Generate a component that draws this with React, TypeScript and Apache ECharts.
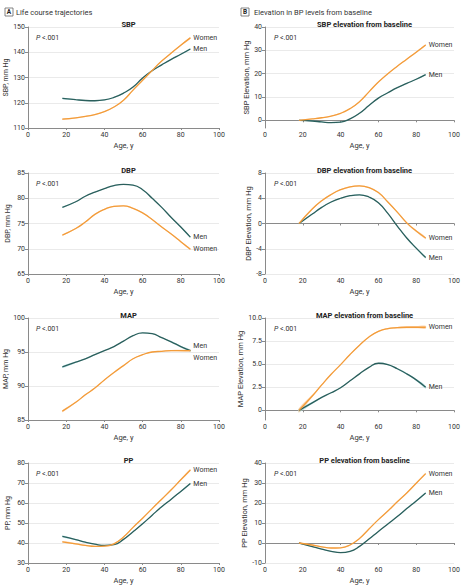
import React, { useEffect, useRef } from "react";
import * as echarts from "echarts";

// ---------- data ----------
const ages = [18, 25, 30, 35, 40, 45, 50, 55, 60, 65, 70, 75, 80, 85];
const ageTicks = [0, 20, 40, 60, 80, 100];

// A. Life course trajectories
const sbpMen = [121.7, 121.2, 120.9, 120.8, 121.1, 122.1, 123.8, 126.2, 129.8, 132.7, 135.0, 137.2, 139.2, 141.3];
const sbpWomen = [113.5, 114.0, 114.6, 115.3, 116.5, 118.3, 121.0, 125.0, 128.9, 132.8, 136.5, 139.7, 142.8, 145.7];
const dbpMen = [78.2, 79.3, 80.4, 81.2, 81.9, 82.5, 82.75, 82.6, 81.7, 80.0, 78.2, 76.2, 74.3, 72.3];
const dbpWomen = [72.7, 74.0, 75.3, 76.8, 77.8, 78.4, 78.5, 78.0, 77.1, 75.8, 74.3, 72.9, 71.4, 69.9];
const mapMen = [92.8, 93.5, 94.0, 94.6, 95.2, 95.8, 96.6, 97.4, 97.8, 97.7, 97.1, 96.5, 95.8, 95.2];
const mapWomen = [86.3, 87.6, 88.7, 89.7, 90.9, 92.0, 93.0, 94.0, 94.6, 95.0, 95.1, 95.2, 95.2, 95.2];
const ppMen = [43.3, 41.7, 40.4, 39.4, 38.8, 39.2, 41.8, 45.6, 49.6, 53.9, 58.1, 61.9, 65.8, 69.7];
const ppWomen = [40.6, 39.6, 38.8, 38.3, 38.4, 39.6, 43.0, 47.8, 52.4, 57.2, 61.9, 66.6, 71.6, 76.5];

// B. Elevation in BP levels from baseline
const sbpElevMen = [0, -0.3, -0.7, -1.0, -0.8, 0.6, 3.0, 6.3, 9.5, 11.8, 14.0, 15.8, 17.6, 19.6];
const sbpElevWomen = [0, 0.6, 1.1, 1.8, 3.0, 5.0, 8.0, 12.2, 16.4, 20.0, 23.2, 26.2, 29.2, 32.3];
const dbpElevMen = [0, 1.5, 2.55, 3.4, 4.0, 4.4, 4.55, 4.2, 3.3, 1.6, -0.4, -2.3, -3.9, -5.4];
const dbpElevWomen = [0, 2.3, 3.6, 4.6, 5.35, 5.8, 5.95, 5.7, 4.9, 3.4, 1.8, 0.1, -1.2, -2.3];
const mapElevMen = [0, 0.8, 1.4, 1.9, 2.45, 3.2, 3.95, 4.65, 5.1, 4.95, 4.5, 3.95, 3.3, 2.5];
const mapElevWomen = [0, 1.55, 2.75, 3.9, 4.95, 6.05, 7.05, 7.95, 8.55, 8.85, 8.95, 9.0, 9.0, 9.0];
const ppElevMen = [0, -1.8, -3.1, -4.2, -4.8, -4.2, -1.7, 2.0, 5.8, 9.5, 13.2, 17.2, 21.0, 25.0];
const ppElevWomen = [0, -1.0, -1.9, -2.5, -2.4, -1.0, 2.3, 7.0, 11.7, 16.0, 20.6, 25.0, 29.9, 34.7];

// confidence band half-widths
const sbpMenCI = [0.3, 0.2, 0.2, 0.2, 0.2, 0.2, 0.2, 0.2, 0.2, 0.2, 0.2, 0.2, 0.25, 0.3];
const sbpWomenCI = [0.3, 0.2, 0.2, 0.2, 0.2, 0.2, 0.2, 0.2, 0.2, 0.2, 0.2, 0.25, 0.3, 0.35];
const dbpMenCI = [0.12, 0.08, 0.08, 0.08, 0.08, 0.08, 0.08, 0.08, 0.08, 0.08, 0.08, 0.1, 0.12, 0.15];
const dbpWomenCI = [0.12, 0.1, 0.1, 0.1, 0.1, 0.1, 0.1, 0.1, 0.1, 0.1, 0.1, 0.12, 0.14, 0.16];
const mapMenCI = [0.15, 0.1, 0.08, 0.06, 0.06, 0.06, 0.06, 0.06, 0.06, 0.07, 0.08, 0.1, 0.12, 0.15];
const mapWomenCI = [0.15, 0.1, 0.08, 0.06, 0.06, 0.06, 0.06, 0.06, 0.06, 0.07, 0.08, 0.1, 0.12, 0.15];
const ppMenCI = [0.4, 0.3, 0.25, 0.25, 0.25, 0.25, 0.25, 0.25, 0.25, 0.25, 0.3, 0.3, 0.35, 0.4];
const ppWomenCI = [0.4, 0.35, 0.3, 0.3, 0.3, 0.3, 0.3, 0.3, 0.3, 0.3, 0.3, 0.35, 0.4, 0.45];
const sbpElevMenCI = [0.2, 0.2, 0.2, 0.2, 0.2, 0.2, 0.2, 0.2, 0.2, 0.2, 0.2, 0.2, 0.25, 0.3];
const sbpElevWomenCI = [0.2, 0.2, 0.2, 0.2, 0.2, 0.2, 0.2, 0.2, 0.2, 0.2, 0.2, 0.25, 0.3, 0.35];
const dbpElevMenCI = [0.12, 0.1, 0.08, 0.08, 0.08, 0.08, 0.08, 0.08, 0.08, 0.08, 0.1, 0.12, 0.14, 0.16];
const dbpElevWomenCI = [0.12, 0.1, 0.1, 0.1, 0.1, 0.1, 0.1, 0.1, 0.1, 0.1, 0.12, 0.14, 0.16, 0.18];
const mapElevMenCI = [0.2, 0.12, 0.08, 0.06, 0.05, 0.05, 0.05, 0.05, 0.06, 0.07, 0.08, 0.1, 0.12, 0.16];
const mapElevWomenCI = [0.25, 0.14, 0.08, 0.06, 0.05, 0.05, 0.05, 0.05, 0.06, 0.07, 0.08, 0.1, 0.12, 0.16];
const ppElevMenCI = [0.2, 0.2, 0.2, 0.2, 0.2, 0.2, 0.2, 0.2, 0.2, 0.2, 0.25, 0.3, 0.35, 0.4];
const ppElevWomenCI = [0.2, 0.2, 0.2, 0.2, 0.2, 0.2, 0.2, 0.2, 0.2, 0.2, 0.25, 0.3, 0.35, 0.4];

// tick labels
const sbpTicks = [110, 120, 130, 140, 150];
const dbpTicks = [65, 70, 75, 80, 85];
const mapTicks = [85, 90, 95, 100];
const ppTicks = [30, 40, 50, 60, 70, 80];
const sbpElevTicks = [0, 10, 20, 30, 40];
const dbpElevTicks = [-8, -4, 0, 4, 8];
const mapElevTicks = [0, 2.5, 5, 7.5, 10];
const mapElevTickLabels = ["0", "2.5", "5.0", "7.5", "10.0"];
const ppElevTicks = [-10, 0, 10, 20, 30, 40];

const titles = ["SBP", "DBP", "MAP", "PP", "SBP elevation from baseline", "DBP elevation from baseline", "MAP elevation from baseline", "PP elevation from baseline"];
const yNames = ["SBP, mm Hg", "DBP, mm Hg", "MAP, mm Hg", "PP, mm Hg", "SBP Elevation, mm Hg", "DBP Elevation, mm Hg", "MAP Elevation, mm Hg", "PP Elevation, mm Hg"];
const headerA = "Life course trajectories";
const headerB = "Elevation in BP levels from baseline";

// ---------- styling ----------
const MEN = "#2b5f5c";
const WOMEN = "#f39c3a";
const MEN_BAND = "rgba(150,215,220,0.6)";
const WOMEN_BAND = "rgba(250,195,140,0.65)";
const FONT = "'Liberation Sans Narrow', 'Roboto', 'Liberation Sans', sans-serif";
const TXT = "#333";

type Panel = {
  men: number[]; women: number[]; menCI: number[]; womenCI: number[];
  ticks: number[]; min: number; max: number; labels?: string[];
  menOff?: number[]; womenOff?: number[];
};

const panels: Panel[] = [
  { men: sbpMen, women: sbpWomen, menCI: sbpMenCI, womenCI: sbpWomenCI, ticks: sbpTicks, min: 110, max: 150 },
  { men: dbpMen, women: dbpWomen, menCI: dbpMenCI, womenCI: dbpWomenCI, ticks: dbpTicks, min: 65, max: 85 },
  { men: mapMen, women: mapWomen, menCI: mapMenCI, womenCI: mapWomenCI, ticks: mapTicks, min: 85, max: 100, menOff: [0, -5], womenOff: [0, 7] },
  { men: ppMen, women: ppWomen, menCI: ppMenCI, womenCI: ppWomenCI, ticks: ppTicks, min: 30, max: 80 },
  { men: sbpElevMen, women: sbpElevWomen, menCI: sbpElevMenCI, womenCI: sbpElevWomenCI, ticks: sbpElevTicks, min: -3.3, max: 40 },
  { men: dbpElevMen, women: dbpElevWomen, menCI: dbpElevMenCI, womenCI: dbpElevWomenCI, ticks: dbpElevTicks, min: -8, max: 8 },
  { men: mapElevMen, women: mapElevWomen, menCI: mapElevMenCI, womenCI: mapElevWomenCI, ticks: mapElevTicks, min: -1.05, max: 10, labels: mapElevTickLabels },
  { men: ppElevMen, women: ppElevWomen, menCI: ppElevMenCI, womenCI: ppElevWomenCI, ticks: ppElevTicks, min: -10, max: 40 },
];

const colLeft = [28, 265];
const colWidth = [191, 189];
const rowTop = [27, 173, 318, 463];
const rowHeight = [101, 101, 102, 100];

function bandSeries(idx: number, mid: number[], half: number[], color: string) {
  return {
    type: "custom",
    xAxisIndex: idx,
    yAxisIndex: idx,
    silent: true,
    z: 1,
    data: ages.map((a, i) => [a, mid[i] - half[i], mid[i] + half[i]]),
    encode: { x: 0, y: [1, 2] },
    renderItem: (params: any, api: any) => {
      if (params.dataIndex !== 0) return null;
      const upper = ages.map((a, i) => api.coord([a, mid[i] + half[i]]));
      const lower = ages.map((a, i) => api.coord([a, mid[i] - half[i]])).reverse();
      return {
        type: "polygon",
        shape: { points: upper.concat(lower), smooth: 0.35 },
        style: { fill: color },
      };
    },
  };
}

function lineSeries(idx: number, name: string, vals: number[], color: string, off?: number[]) {
  return {
    type: "line",
    name,
    xAxisIndex: idx,
    yAxisIndex: idx,
    smooth: true,
    symbol: "none",
    z: 3,
    data: ages.map((a, i) => [a, vals[i]]),
    lineStyle: { color, width: 1.3 },
    itemStyle: { color },
    endLabel: {
      show: true,
      formatter: name,
      fontSize: 7,
      fontFamily: FONT,
      color: TXT,
      distance: 3,
      offset: off || [0, 0],
    },
  };
}

export default function App() {
  const ref = useRef<HTMLDivElement>(null);
  useEffect(() => {
    if (!ref.current) return;
    const chart = echarts.init(ref.current, null, { renderer: "svg" });
    const grid: any[] = [];
    const xAxis: any[] = [];
    const yAxis: any[] = [];
    const title: any[] = [];
    const series: any[] = [];
    const graphic: any[] = [];

    panels.forEach((p, idx) => {
      const col = idx < 4 ? 0 : 1;
      const row = idx % 4;
      const left = colLeft[col];
      const top = rowTop[row];
      grid.push({ left, top, width: colWidth[col], height: rowHeight[row], containLabel: false });
      xAxis.push({
        type: "value",
        gridIndex: idx,
        min: 0,
        max: 100,
        interval: 20,
        name: "Age, y",
        nameLocation: "middle",
        nameGap: 13,
        nameTextStyle: { fontSize: 7.5, fontFamily: FONT, color: TXT },
        axisLine: { lineStyle: { color: "#8a8a8a", width: 1 } },
        axisTick: { show: true, length: 2, lineStyle: { color: "#8a8a8a" }, customValues: ageTicks },
        axisLabel: { fontSize: 7, fontFamily: FONT, color: TXT, margin: 3, customValues: ageTicks },
        splitLine: { show: false },
      });
      yAxis.push({
        type: "value",
        gridIndex: idx,
        min: p.min,
        max: p.max,
        name: yNames[idx],
        nameLocation: "middle",
        nameGap: col === 0 ? 17 : 13,
        nameTextStyle: { fontSize: col === 0 ? 7 : 7.5, fontFamily: FONT, color: TXT },
        axisLine: { show: true, lineStyle: { color: "#8a8a8a", width: 1 } },
        axisTick: { show: true, length: 3, lineStyle: { color: "#8a8a8a" }, customValues: p.ticks },
        axisLabel: {
          fontSize: 7,
          fontFamily: FONT,
          color: TXT,
          margin: 3,
          customValues: p.ticks,
          formatter: (v: number) => (p.labels ? p.labels[p.ticks.indexOf(v)] ?? String(v) : String(v)),
        },
        splitLine: { show: true, lineStyle: { color: "#e4e4e4", width: 0.8 } },
      });
      title.push({
        text: titles[idx],
        left: left + colWidth[col] / 2,
        textAlign: "center",
        top: top - 12,
        textStyle: { fontSize: 7.5, fontWeight: "bold", fontFamily: FONT, color: "#222" },
      });
      graphic.push({
        type: "text",
        left: col === 0 ? 36 : 274,
        top: top + 7,
        style: {
          text: "{i|P} <.001",
          rich: { i: { fontStyle: "italic", fontSize: 7, fontFamily: FONT, fill: TXT } },
          fontSize: 7,
          fontFamily: FONT,
          fill: TXT,
        },
      });
      series.push(bandSeries(idx, p.men, p.menCI, MEN_BAND));
      series.push(bandSeries(idx, p.women, p.womenCI, WOMEN_BAND));
      series.push(lineSeries(idx, "Men", p.men, MEN, p.menOff));
      series.push(lineSeries(idx, "Women", p.women, WOMEN, p.womenOff));
    });

    // panel headers
    graphic.push(
      { type: "rect", shape: { x: 5, y: 8, width: 8, height: 8 }, style: { fill: "#fff", stroke: "#666", lineWidth: 0.8 } },
      { type: "text", x: 9, y: 12.3, style: { text: "A", fontSize: 6.5, fontWeight: "bold", fontFamily: FONT, fill: "#222", align: "center", verticalAlign: "middle" } },
      { type: "text", x: 16, y: 12, style: { text: headerA, fontSize: 7.5, fontFamily: FONT, fill: TXT, verticalAlign: "middle" } },
      { type: "rect", shape: { x: 241, y: 8, width: 8, height: 8 }, style: { fill: "#fff", stroke: "#666", lineWidth: 0.8 } },
      { type: "text", x: 245, y: 12.3, style: { text: "B", fontSize: 6.5, fontWeight: "bold", fontFamily: FONT, fill: "#222", align: "center", verticalAlign: "middle" } },
      { type: "text", x: 254, y: 12, style: { text: headerB, fontSize: 7.5, fontFamily: FONT, fill: TXT, verticalAlign: "middle" } }
    );

    chart.setOption({
      animation: false,
      backgroundColor: "#ffffff",
      title,
      grid,
      xAxis,
      yAxis,
      series,
      graphic,
    });
    return () => chart.dispose();
  }, []);
  return <div ref={ref} style={{ position: "absolute", left: 0, top: 0, width: 467, height: 588 }} />;
}
